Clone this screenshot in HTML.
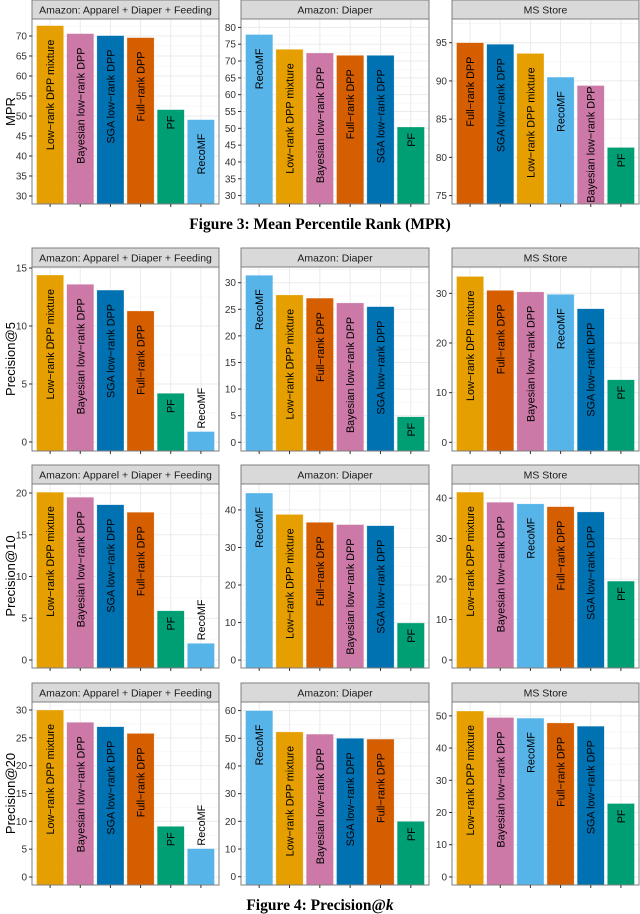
<!DOCTYPE html>
<html><head><meta charset="utf-8"><style>
html,body{margin:0;padding:0;background:#fff;}
svg{display:block;}
text{font-family:"Liberation Sans",sans-serif;}
</style></head><body>
<svg id="fig" width="640" height="914" viewBox="0 0 640 914" xmlns="http://www.w3.org/2000/svg">
<text x="320" y="229" text-anchor="middle" style="font-family:'Liberation Serif',serif;font-weight:bold;font-size:15.5px">Figure 3: Mean Percentile Rank (MPR)</text>
<text x="320" y="910" text-anchor="middle" style="font-family:'Liberation Serif',serif;font-weight:bold;font-size:15.5px">Figure 4: Precision@<tspan font-style="italic">k</tspan></text>
</svg>
<script>
// ---- data ----
const rowMetrics = ["MPR", "Precision@5", "Precision@10", "Precision@20"];
const datasets = ["Amazon: Apparel + Diaper + Feeding", "Amazon: Diaper", "MS Store"];
const cats_r1 = [
 ["Low\u2212rank DPP mixture","Bayesian low\u2212rank DPP","SGA low\u2212rank DPP","Full\u2212rank DPP","PF","RecoMF"],
 ["RecoMF","Low\u2212rank DPP mixture","Bayesian low\u2212rank DPP","Full\u2212rank DPP","SGA low\u2212rank DPP","PF"],
 ["Full\u2212rank DPP","SGA low\u2212rank DPP","Low\u2212rank DPP mixture","RecoMF","Bayesian low\u2212rank DPP","PF"]];
const cats_r2 = [
 ["Low\u2212rank DPP mixture","Bayesian low\u2212rank DPP","SGA low\u2212rank DPP","Full\u2212rank DPP","PF","RecoMF"],
 ["RecoMF","Low\u2212rank DPP mixture","Full\u2212rank DPP","Bayesian low\u2212rank DPP","SGA low\u2212rank DPP","PF"],
 ["Low\u2212rank DPP mixture","Full\u2212rank DPP","Bayesian low\u2212rank DPP","RecoMF","SGA low\u2212rank DPP","PF"]];
const cats_r3 = [
 ["Low\u2212rank DPP mixture","Bayesian low\u2212rank DPP","SGA low\u2212rank DPP","Full\u2212rank DPP","PF","RecoMF"],
 ["RecoMF","Low\u2212rank DPP mixture","Full\u2212rank DPP","Bayesian low\u2212rank DPP","SGA low\u2212rank DPP","PF"],
 ["Low\u2212rank DPP mixture","Bayesian low\u2212rank DPP","RecoMF","Full\u2212rank DPP","SGA low\u2212rank DPP","PF"]];
const cats_r4 = [
 ["Low\u2212rank DPP mixture","Bayesian low\u2212rank DPP","SGA low\u2212rank DPP","Full\u2212rank DPP","PF","RecoMF"],
 ["RecoMF","Low\u2212rank DPP mixture","Bayesian low\u2212rank DPP","SGA low\u2212rank DPP","Full\u2212rank DPP","PF"],
 ["Low\u2212rank DPP mixture","Bayesian low\u2212rank DPP","RecoMF","Full\u2212rank DPP","SGA low\u2212rank DPP","PF"]];
const vals_r1 = [[72.6,70.6,70.1,69.6,51.6,49.1],[77.9,73.5,72.4,71.7,71.7,50.4],[95.0,94.8,93.6,90.5,89.4,81.3]];
const vals_r2 = [[14.4,13.6,13.1,11.3,4.2,0.9],[31.4,27.7,27.1,26.2,25.5,4.8],[33.4,30.6,30.3,29.8,26.9,12.6]];
const vals_r3 = [[20.1,19.5,18.6,17.7,5.9,2.0],[44.5,38.8,36.7,36.1,35.8,9.9],[41.5,39.0,38.6,37.9,36.6,19.5]];
const vals_r4 = [[30.0,27.8,27.0,25.8,9.1,5.1],[60.0,52.3,51.5,50.0,49.7,20.0],[51.5,49.5,49.3,47.8,46.8,22.8]];
const ticks_r1 = [[30,35,40,45,50,55,60,65,70],[30,35,40,45,50,55,60,65,70,75,80],[75,80,85,90,95]];
const ticks_r2 = [[0,5,10,15],[0,5,10,15,20,25,30],[0,10,20,30]];
const ticks_r3 = [[0,5,10,15,20],[0,10,20,30,40],[0,10,20,30,40]];
const ticks_r4 = [[0,5,10,15,20,25,30],[0,10,20,30,40,50,60],[0,10,20,30,40,50]];
const domains_r1 = [[28,74.25],[27.5,82.5],[73.9,98.1]];
const domains_r2 = [[-0.78,15.09],[-1.64,32.95],[-1.75,35.3]];
const domains_r3 = [[-0.96,21.08],[-2.1,46.9],[-1.98,43.5]];
const domains_r4 = [[-1.44,31.44],[-2.99,63.1],[-2.5,54.3]];
const colorOf = {"Low\u2212rank DPP mixture":"#E69F00","Bayesian low\u2212rank DPP":"#CC79A7","SGA low\u2212rank DPP":"#0072B2","Full\u2212rank DPP":"#D55E00","PF":"#009E73","RecoMF":"#56B4E9"};

// ---- layout ----
const NS="http://www.w3.org/2000/svg";
const svg=document.getElementById('fig');
const colX=[[32,219],[241,429],[452,639]];
const rowY=[[0,19,204],[248,267,451],[465,484,668],[683,702,885]];
const allCats=[cats_r1,cats_r2,cats_r3,cats_r4], allVals=[vals_r1,vals_r2,vals_r3,vals_r4],
      allTicks=[ticks_r1,ticks_r2,ticks_r3,ticks_r4], allDom=[domains_r1,domains_r2,domains_r3,domains_r4];
function mk(tag,attrs,parent){const e=document.createElementNS(NS,tag);for(const k in attrs)e.setAttribute(k,attrs[k]);(parent||svg).appendChild(e);return e;}

for(let r=0;r<4;r++){
  const [sy,py0,py1]=rowY[r];
  const yt=mk('text',{x:0,y:0,transform:`translate(15,${(py0+py1)/2}) rotate(-90)`,'text-anchor':'middle','font-size':'13px',fill:'#000'});
  
  
  yt.textContent=rowMetrics[r];
  for(let c=0;c<3;c++){
    const [x0,x1]=colX[c];
    const g=mk('g',{});
    
    
    const cats=allCats[r][c], vals=allVals[r][c], ticks=allTicks[r][c], [d0,d1]=allDom[r][c];
    const X=v=>x0+(v-0.4)/6.2*(x1-x0);
    const Y=v=>py1-(v-d0)/(d1-d0)*(py1-py0);
    const st=mk('rect',{x:x0,y:sy,width:x1-x0,height:py0-sy,fill:'#d9d9d9',stroke:'#7f7f7f','stroke-width':1},g);
    
    
    const stt=mk('text',{x:(x0+x1)/2,y:sy+13.5,'text-anchor':'middle','font-size':'10.5px',fill:'#1a1a1a'},g);
    
    
    stt.textContent=datasets[c];
    mk('rect',{x:x0,y:py0,width:x1-x0,height:py1-py0,fill:'#fff'},g);
    const clipId='cl'+r+c;
    const cp=mk('clipPath',{id:clipId},g); mk('rect',{x:x0,y:py0,width:x1-x0,height:py1-py0},cp);
    const inner=mk('g',{'clip-path':`url(#${clipId})`},g);
    const step=ticks[1]-ticks[0];
    for(let t=ticks[0]-step;t<=ticks[ticks.length-1]+step;t+=step/2){
      const major=Math.abs((t-ticks[0])/step-Math.round((t-ticks[0])/step))<1e-6;
      const y=Y(t); if(y<py0||y>py1)continue;
      mk('line',{x1:x0,x2:x1,y1:y,y2:y,stroke:major?'#ebebeb':'#f3f3f3','stroke-width':major?1:0.6},inner);
    }
    for(let i=0;i<6;i++){const x=X(i+1);mk('line',{x1:x,x2:x,y1:py0,y2:py1,stroke:'#ebebeb','stroke-width':1},inner);}
    for(let i=0;i<6;i++){
      const xl=X(i+1-0.45), xr=X(i+1+0.45), yt2=Y(vals[i]);
      const b=mk('rect',{x:xl,y:yt2,width:xr-xl,height:Math.max(0,py1-yt2),fill:colorOf[cats[i]],stroke:'#fff','stroke-opacity':0.5,'stroke-width':0.6},inner);
      
      
      const cx=X(i+1);
      const lab=mk('text',{'font-size':'10.8px',fill:'#000'},g);
      
      
      lab.textContent=cats[i];
      const L=lab.getComputedTextLength();
      const h=py1-yt2;
      let ty, anchor;
      if(h>L+2 || h>60){
        let off=L>40?14:6;
        off=Math.max(1,Math.min(off,h-L-2));
        ty=yt2+off;anchor='end';
      } else {ty=yt2-3;anchor='start';}
      lab.setAttribute('text-anchor',anchor);
      lab.setAttribute('transform',`translate(${cx+4},${ty}) rotate(-90)`);
    }
    mk('rect',{x:x0,y:py0,width:x1-x0,height:py1-py0,fill:'none',stroke:'#7f7f7f','stroke-width':1},g);
    for(const t of ticks){
      const y=Y(t);
      mk('line',{x1:x0-3,x2:x0,y1:y,y2:y,stroke:'#333','stroke-width':1},g);
      const tl=mk('text',{x:x0-5,y:y+3.5,'text-anchor':'end','font-size':'10px',fill:'#333'},g);
      
      
      tl.textContent=t;
    }
    for(let i=0;i<6;i++){const x=X(i+1);mk('line',{x1:x,x2:x,y1:py1,y2:py1+3,stroke:'#333','stroke-width':1},g);}
  }
}
</script>
</body></html>
